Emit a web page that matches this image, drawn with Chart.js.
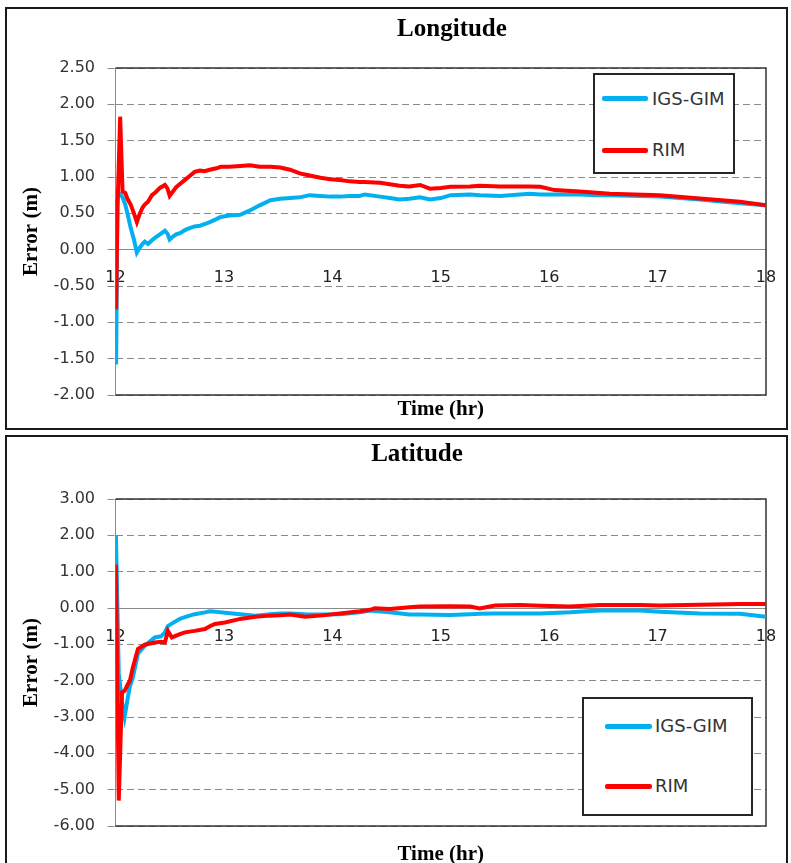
<!DOCTYPE html>
<html>
<head>
<meta charset="utf-8">
<title>Longitude / Latitude error</title>
<script src="https://cdn.jsdelivr.net/npm/chart.js@4.4.1/dist/chart.umd.min.js"></script>
<style>
  html, body { margin: 0; padding: 0; background: #fff; }
  body { position: relative; width: 791px; height: 863px; overflow: hidden; }
  .frame { position: absolute; left: 5px; width: 783px; border: 2px solid #1a1a1a; box-sizing: border-box; }
  #frameLon { top: 7px; height: 423px; }
  #frameLat { top: 435px; height: 440px; }
  canvas { position: absolute; left: 0; }
  .title { position: absolute; width: 300px; text-align: center; font: bold 25px "Liberation Serif", "Times New Roman", serif; line-height: 25px; color: #000; }
  .legend { position: absolute; border: 2px solid #262626; background: #fff; box-sizing: border-box; }
  .legend .swatch { position: absolute; height: 5px; border-radius: 2px; }
  .legend .label { position: absolute; font: 18px "DejaVu Sans", Verdana, sans-serif; line-height: 22px; color: #333; white-space: nowrap; }
</style>
</head>
<body>
<div class="frame" id="frameLon"></div>
<div class="frame" id="frameLat"></div>
<canvas id="lonChart" width="791" height="430" style="top:0"></canvas>
<canvas id="latChart" width="791" height="440" style="top:430px"></canvas>
<div class="title" style="left:302px; top:15px">Longitude</div>
<div class="title" style="left:267px; top:440px">Latitude</div>
<div class="legend" id="lonLegend" style="left:593px; top:73px; width:142px; height:101px"></div>
<div class="legend" id="latLegend" style="left:582px; top:697px; width:171px; height:119px"></div>

<script>
// Longitude error (m) vs time (hr)
const lonTime = [12.000, 12.006, 12.018, 12.043, 12.065, 12.09, 12.11, 12.14, 12.17, 12.197,
  12.22, 12.25, 12.27, 12.30, 12.336, 12.37, 12.41, 12.456, 12.48, 12.50,
  12.53, 12.56, 12.60, 12.64, 12.69, 12.73, 12.78, 12.82, 12.87, 12.93,
  12.97, 13.05, 13.15, 13.24, 13.33, 13.43, 13.52, 13.61, 13.70, 13.79,
  13.89, 13.98, 14.07, 14.16, 14.25, 14.30, 14.44, 14.53, 14.62, 14.71,
  14.81, 14.90, 15.00, 15.09, 15.27, 15.36, 15.55, 15.64, 15.82, 15.92,
  16.05, 16.28, 16.47, 16.56, 17.02, 17.39, 17.76, 18.00];
const lonIgs = [-0.85, -1.58, 0.78, 0.76, 0.72, 0.62, 0.50, 0.30, 0.14, -0.04,
  0.02, 0.08, 0.11, 0.08, 0.13, 0.17, 0.21, 0.26, 0.22, 0.14,
  0.18, 0.21, 0.23, 0.27, 0.30, 0.32, 0.33, 0.35, 0.38, 0.42,
  0.45, 0.47, 0.48, 0.54, 0.61, 0.68, 0.70, 0.71, 0.72, 0.75,
  0.74, 0.73, 0.73, 0.74, 0.74, 0.76, 0.73, 0.71, 0.69, 0.70,
  0.72, 0.69, 0.71, 0.75, 0.76, 0.75, 0.74, 0.75, 0.77, 0.76,
  0.76, 0.76, 0.75, 0.75, 0.73, 0.69, 0.64, 0.61];
const lonRim = [0.70, -0.82, 0.55, 1.83, 0.80, 0.78, 0.70, 0.62, 0.50, 0.38,
  0.48, 0.58, 0.62, 0.66, 0.75, 0.79, 0.85, 0.89, 0.84, 0.74,
  0.80, 0.86, 0.91, 0.96, 1.02, 1.07, 1.09, 1.08, 1.10, 1.12,
  1.14, 1.14, 1.15, 1.16, 1.14, 1.14, 1.13, 1.10, 1.05, 1.02,
  0.99, 0.97, 0.96, 0.94, 0.93, 0.93, 0.92, 0.90, 0.88, 0.87,
  0.89, 0.84, 0.85, 0.865, 0.87, 0.88, 0.87, 0.87, 0.87, 0.865,
  0.82, 0.80, 0.78, 0.77, 0.75, 0.705, 0.66, 0.61];

// Latitude error (m) vs time (hr)
const latTime = [12.000, 12.004, 12.030, 12.06, 12.084, 12.114, 12.133, 12.16, 12.207, 12.27,
  12.363, 12.42, 12.456, 12.483, 12.52, 12.594, 12.64, 12.73, 12.825, 12.87,
  12.917, 13.01, 13.15, 13.29, 13.425, 13.517, 13.61, 13.75, 13.886, 14.07,
  14.254, 14.35, 14.39, 14.53, 14.71, 14.81, 15.085, 15.27, 15.36, 15.5,
  15.73, 15.92, 16.19, 16.47, 16.84, 17.02, 17.39, 17.76, 18.00];
const latIgs = [-1.40, 2.00, -1.80, -2.60, -3.00, -2.46, -2.15, -1.91, -1.26, -1.04,
  -0.81, -0.78, -0.67, -0.50, -0.43, -0.30, -0.25, -0.17, -0.12, -0.09,
  -0.10, -0.13, -0.17, -0.21, -0.17, -0.15, -0.15, -0.17, -0.18, -0.17,
  -0.12, -0.07, -0.08, -0.12, -0.18, -0.18, -0.19, -0.17, -0.16, -0.15,
  -0.15, -0.15, -0.12, -0.07, -0.07, -0.10, -0.15, -0.16, -0.24];
const latRim = [-1.50, 1.20, -5.30, -2.32, -2.28, -2.10, -2.00, -1.64, -1.13, -1.01,
  -0.95, -0.93, -0.95, -0.63, -0.81, -0.72, -0.67, -0.63, -0.58, -0.50,
  -0.44, -0.40, -0.30, -0.24, -0.21, -0.20, -0.18, -0.24, -0.21, -0.15,
  -0.09, -0.05, -0.01, -0.03, 0.02, 0.04, 0.05, 0.04, -0.01, 0.07,
  0.08, 0.06, 0.04, 0.08, 0.08, 0.07, 0.09, 0.11, 0.11];

const hourTicks = [12, 13, 14, 15, 16, 17, 18];
const seriesNames = ['IGS-GIM', 'RIM'];
const seriesColors = ['#00B0F0', '#FF0000'];

const toPoints = (xs, ys) => xs.map((x, i) => ({ x: x, y: ys[i] }));

// dark frame on top, right and bottom of the plot area
const plotFrame = {
  id: 'plotFrame',
  beforeDatasetsDraw(chart) {
    const { ctx, chartArea: a } = chart;
    ctx.save();
    ctx.strokeStyle = '#333';
    ctx.lineWidth = 1.5;
    ctx.beginPath();
    ctx.moveTo(a.left, a.top);
    ctx.lineTo(a.right, a.top);
    ctx.lineTo(a.right, a.bottom);
    ctx.lineTo(a.left, a.bottom);
    ctx.stroke();
    ctx.restore();
  }
};

const makeChart = (canvasId, time, igs, rim, yMin, yMax, yStep, padTop, xHeight, xTitlePad) => {
  const ctx = document.getElementById(canvasId).getContext('2d');
  return new Chart(ctx, {
    type: 'line',
    data: {
      datasets: [{
        label: seriesNames[0],
        data: toPoints(time, igs),
        borderColor: seriesColors[0],
        borderWidth: 4,
        pointRadius: 0,
        fill: false,
        order: 2
      }, {
        label: seriesNames[1],
        data: toPoints(time, rim),
        borderColor: seriesColors[1],
        borderWidth: 4,
        pointRadius: 0,
        fill: false,
        order: 1 // red drawn over blue
      }]
    },
    options: {
      responsive: false,
      animation: false,
      devicePixelRatio: 1,
      events: [],
      layout: { padding: { top: padTop, right: 25, left: 0, bottom: 0 } },
      plugins: { legend: { display: false }, title: { display: false }, tooltip: { enabled: false } },
      scales: {
        x: {
          type: 'linear',
          position: 'bottom',
          min: 12,
          max: 18,
          ticks: { display: false },
          grid: { display: false },
          border: { display: false },
          title: {
            display: true,
            text: 'Time (hr)',
            color: '#000',
            font: { family: 'Liberation Serif', size: 21, weight: 'bold' },
            padding: { top: 0, bottom: xTitlePad }
          },
          afterFit: (s) => { s.height = xHeight; }
        },
        // hour labels sit just under the zero line
        xHours: {
          type: 'linear',
          position: { y: 0 },
          min: 12,
          max: 18,
          afterBuildTicks: (s) => { s.ticks = hourTicks.map(v => ({ value: v })); },
          ticks: {
            color: '#222',
            padding: 3,
            maxRotation: 0,
            font: { family: 'DejaVu Sans', size: 16 }
          },
          grid: { display: false, drawTicks: true, tickLength: 16 },
          border: { display: false }
        },
        y: {
          min: yMin,
          max: yMax,
          ticks: {
            stepSize: yStep,
            color: '#333',
            padding: 12.5,
            font: { family: 'DejaVu Sans', size: 16 },
            callback: (v) => Number(v).toFixed(2)
          },
          grid: {
            color: '#8a8a8a',
            lineWidth: 1,
            tickLength: 8,
            tickColor: '#8a8a8a',
            tickBorderDash: (c) => (c.tick && c.tick.value === 0) ? [] : [7, 4]
          },
          border: {
            display: true,
            color: '#8a8a8a',
            width: 1,
            dash: (c) => (c.type === 'tick' && c.tick && c.tick.value !== 0) ? [7, 4] : []
          },
          title: {
            display: true,
            text: 'Error (m)',
            color: '#000',
            font: { family: 'Liberation Serif', size: 21, weight: 'bold' },
            padding: { top: 19, bottom: 0 }
          },
          afterFit: (s) => { s.width = 115.5; }
        }
      }
    },
    plugins: [plotFrame]
  });
};

// legend boxes built from the chart datasets
const buildLegend = (chart, elId, rowY, swX, swW, textX) => {
  const box = document.getElementById(elId);
  chart.data.datasets.forEach((ds, i) => {
    const sw = document.createElement('div');
    sw.className = 'swatch';
    sw.style.left = swX + 'px';
    sw.style.width = swW + 'px';
    sw.style.top = (rowY[i] - 2.5) + 'px';
    sw.style.background = ds.borderColor;
    box.appendChild(sw);
    const lb = document.createElement('span');
    lb.className = 'label';
    lb.style.left = textX + 'px';
    lb.style.top = (rowY[i] - 11) + 'px';
    lb.textContent = ds.label;
    box.appendChild(lb);
  });
};

const lonChart = makeChart('lonChart', lonTime, lonIgs, lonRim, -2, 2.5, 0.5, 68, 35, 7.4);
const latChart = makeChart('latChart', latTime, latIgs, latRim, -6, 3, 1, 69, 44, 2.4);

buildLegend(lonChart, 'lonLegend', [23.5, 75], 7, 46, 57);
buildLegend(latChart, 'latLegend', [27, 87], 21, 47, 71);
</script>
</body>
</html>
